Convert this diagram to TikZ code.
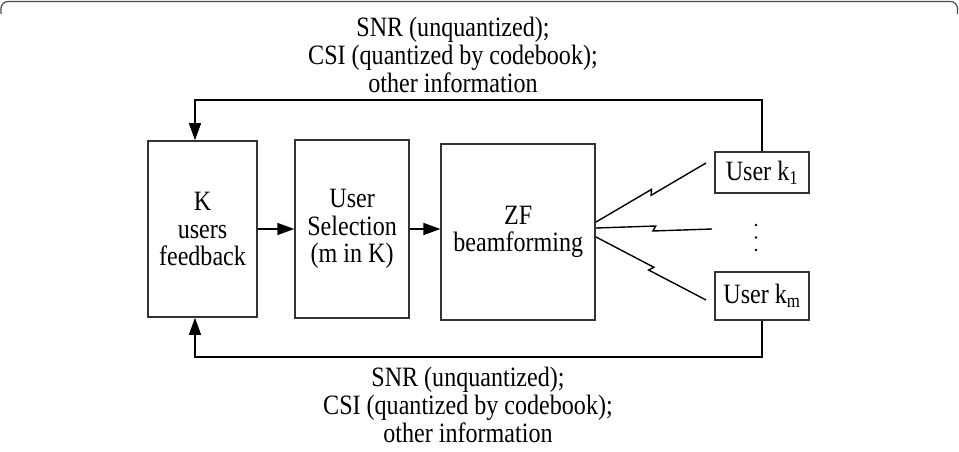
\documentclass[tikz,border=0pt]{standalone}
\usepackage{fontspec}
\setmainfont{Liberation Serif}[FakeStretch=0.86]
\usetikzlibrary{arrows.meta,positioning,calc}
\tikzset{
  box/.style={draw=black!80, line width=1.6pt, align=center, inner sep=0pt, font=\fontsize{28}{27.5}\selectfont},
  userbox/.style={box, minimum width=94pt},
  note/.style={align=center, font=\fontsize{28}{28}\selectfont},
  arrow/.style={-{Triangle[length=17pt,width=12pt]}, line width=1.4pt},
  link/.style={line width=1.4pt},
}
\newcommand{\bolt}[2]{\draw[link] (#1) -- ($(#1)!0.515!(#2)!2.5pt!90:(#2)$) -- ($(#1)!0.49!(#2)!2.5pt!-90:(#2)$) -- (#2);}

\begin{document}
\begin{tikzpicture}[x=1pt, y=-1pt, node distance=36pt]
  \useasboundingbox (0,0) rectangle (959,452);
  \draw[black!70, line width=1.2pt, rounded corners=7pt] (1,14) -- (1,1.5) -- (957.5,1.5) -- (957.5,14);

  \node[box, minimum width=109pt, minimum height=176pt] (fb) at (202.5,229) {K\\users\\feedback};
  \node[box, minimum width=114pt, minimum height=178pt, right=36.5pt of fb] (sel) {User\\Selection\\(m in K)};
  \node[box, minimum width=154pt, minimum height=176pt, right=30.5pt of sel, yshift=-3pt] (zf) {ZF\\beamforming};
  \node[userbox, minimum height=41pt] (uk1) at (762,172.5) {User k\textsubscript{1}};
  \node[userbox, minimum height=48pt] (ukm) at (762,296) {User k\textsubscript{m}};
  \foreach \y in {225,237.5,250} \fill (756,\y) circle (1.3pt);

  \draw[arrow] (fb) -- (sel);
  \draw[arrow] (sel.east) -- (sel.east -| zf.west);

  \coordinate (top) at (195,100);
  \coordinate (bot) at (195,357);
  \draw[arrow] (uk1.north) |- (top) -- (top |- fb.north);
  \draw[arrow] (ukm.south) |- (bot) -- (bot |- fb.south);
  \node[note] (fbtop) at (453,55) {SNR (unquantized);\\CSI (quantized by codebook);\\other information};
  \node[note] (fbbot) at (468,405) {SNR (unquantized);\\CSI (quantized by codebook);\\other information};

  \coordinate (a1) at ($(zf.east)+(0,-10)$);
  \coordinate (a2) at ($(zf.east)+(0,-4)$);
  \coordinate (a3) at ($(zf.east)+(0,5)$);
  \coordinate (b1) at (706,163);
  \coordinate (b2) at (712,229);
  \coordinate (b3) at (706,300);
  \foreach \i in {1,2,3} {\bolt{a\i}{b\i}}
\end{tikzpicture}
\end{document}
